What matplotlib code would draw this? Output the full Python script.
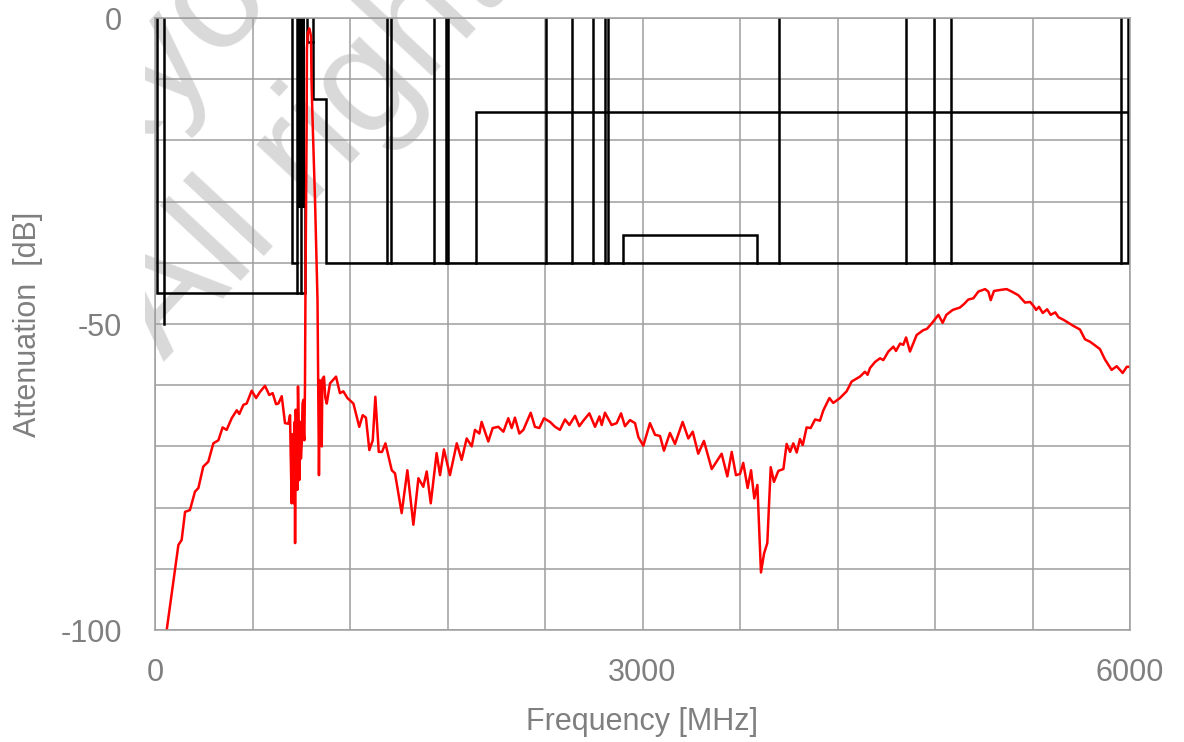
import matplotlib.pyplot as plt
import numpy as np
from matplotlib.ticker import MultipleLocator

plt.rcParams['font.family'] = ['Liberation Sans', 'DejaVu Sans']
plt.rcParams['axes.unicode_minus'] = False

# measured attenuation curve (MHz, dB)
freq = [72, 144, 164, 185, 215, 246, 267, 297, 328, 359, 390, 416, 441, 472, 503, 519,
        544, 564, 595, 622, 646, 677, 703, 724, 745, 759, 780, 800, 821, 831, 835, 841,
        845, 850, 855, 859, 862, 866, 868, 872, 876, 880, 884, 888, 893, 898, 903, 908,
        913, 916, 919, 923, 926, 930, 933, 935, 940, 949, 955, 960, 963, 970, 985, 1000,
        1006, 1009, 1015, 1026, 1030, 1040, 1048, 1057, 1077, 1114, 1138, 1159, 1184, 1221,
        1257, 1278, 1298, 1319, 1340, 1356, 1377, 1397, 1418, 1457, 1477, 1518, 1553, 1590,
        1621, 1651, 1672, 1697, 1733, 1754, 1778, 1815, 1857, 1887, 1918, 1949, 1969, 1996,
        2010, 2051, 2078, 2113, 2144, 2174, 2195, 2215, 2242, 2267, 2312, 2338, 2365, 2394,
        2431, 2462, 2492, 2523, 2550, 2585, 2611, 2636, 2673, 2708, 2735, 2749, 2769, 2810,
        2841, 2868, 2892, 2923, 2954, 2975, 3005, 3046, 3077, 3108, 3132, 3169, 3200, 3247,
        3282, 3309, 3343, 3378, 3426, 3487, 3522, 3549, 3575, 3600, 3620, 3647, 3668, 3688,
        3707, 3729, 3748, 3768, 3789, 3809, 3836, 3867, 3887, 3908, 3928, 3949, 3969, 3986,
        4010, 4035, 4062, 4092, 4113, 4150, 4174, 4215, 4256, 4287, 4338, 4369, 4385, 4400,
        4431, 4462, 4482, 4513, 4544, 4560, 4585, 4605, 4622, 4646, 4687, 4728, 4750, 4780,
        4821, 4847, 4870, 4909, 4954, 4980, 5005, 5036, 5067, 5108, 5128, 5143, 5163, 5210,
        5241, 5272, 5313, 5354, 5385, 5408, 5422, 5440, 5463, 5490, 5512, 5540, 5560, 5590,
        5621, 5651, 5692, 5723, 5754, 5775, 5815, 5846, 5887, 5918, 5955, 5980, 6000]
atten = [-100, -86.1, -85.3, -80.7, -80.4, -77.4, -76.8, -73.3, -72.5, -69.5, -69.0, -66.9,
         -67.3, -65.4, -64.1, -64.7, -63.2, -63.0, -60.9, -62.1, -61.1, -60.1, -61.6, -61.3,
         -63.1, -63.0, -61.8, -66.2, -66.3, -64.9, -71.1, -79.3, -68, -75, -79.3, -66, -85.8,
         -64, -66.2, -70, -77.1, -60.2, -66, -75.5, -66, -72, -69.5, -63, -62.4, -68, -69,
         -60, -44, -30, -18, -5, -2.5, -1.7, -2.3, -3, -10, -17, -30, -46, -65, -74.7, -59.2,
         -70, -59, -58.6, -62, -63, -59.7, -58.6, -61.3, -61, -62.1, -63, -66.8, -64.9, -65.3,
         -70.6, -69, -61.9, -70.9, -70.9, -69.5, -73.9, -74.4, -80.9, -73.9, -82.8, -75.2,
         -76.6, -74.1, -79.3, -71.1, -74.7, -70.5, -74.7, -69.5, -72.2, -68.7, -70.0, -67.3,
         -67.9, -66.0, -69.2, -67.0, -66.8, -67.6, -65.4, -67, -65.3, -67.9, -67.3, -64.5,
         -66.8, -67, -65.4, -66, -66.8, -67.3, -65.6, -66.5, -65.0, -66.7, -65.8, -64.6,
         -66.8, -65.1, -66.5, -64.5, -66.5, -66.2, -64.6, -66.7, -65.7, -66.2, -68.5, -69.9,
         -66.2, -68.1, -68.3, -70.7, -67.8, -69.6, -66.0, -68.7, -67.6, -71.2, -69.1, -73.7,
         -71.2, -74.9, -70.9, -74.7, -74.5, -72.7, -76.8, -73.9, -78.5, -76.3, -90.6, -87.5,
         -85.8, -73.4, -75.8, -74.0, -73.7, -69.6, -70.9, -69.5, -71.0, -68.8, -69.8, -66.9,
         -67, -65.6, -65.8, -64.1, -62.1, -62.9, -62.1, -61.0, -59.4, -58.6, -57.8, -58.3,
         -57.2, -56.2, -55.6, -55.9, -54.5, -53.7, -54.4, -53.2, -53.4, -52.2, -54.5, -51.8,
         -51.0, -50.8, -49.9, -48.5, -49.8, -48.5, -47.7, -47.3, -46.7, -46.0, -45.8, -44.7,
         -44.3, -44.7, -46.1, -44.6, -44.4, -44.3, -44.7, -45.3, -46.5, -46.4, -47.1, -47.7,
         -47.2, -48.2, -47.6, -48.5, -48.1, -48.9, -49.3, -49.8, -50.3, -50.9, -52.5, -52.9,
         -53.3, -54.1, -55.8, -57.5, -56.9, -58.0, -57.0, -57.0]

# spec mask outlines (MHz, dB)
mask_paths = [
    [(14, 0), (14, -45), (923, -45), (923, -31)],
    [(55, 0), (55, -50)],
    [(845, 0), (845, -40), (875, -40)],
    [(875, 0), (875, -45)],
    [(897, -31), (897, -45)],
    [(933, 0), (933, -4), (975, -4)],
    [(975, 0), (975, -13.3), (1052, -13.3), (1052, -40), (5990, -40), (5990, 0)],
    [(1975, -40), (1975, -15.4), (5990, -15.4)],
    [(2878, -40), (2878, -35.4), (3702, -35.4), (3702, -40)],
]
mask_edges = [1430, 1451, 1719, 1789, 1805, 2404, 2568, 2694, 2770, 2790,
              3842, 4620, 4794, 4899, 5945]
mask_edge_level = -40
mask_block = [(872, 0), (923, 0), (923, -31), (872, -31)]

grey = '#7f7f7f'
grid_col = '#9e9e9e'

fig = plt.figure(figsize=(11.84, 7.42), dpi=100)

# faint watermark, clipped to the plot region
wm = fig.add_axes([145 / 1184, 0, 1 - 145 / 1184, 1])
wm.set_axis_off()
wm.set_zorder(0)
for txt, (px, py) in [('Kyocera', (93, 185)), ('All rights reserved', (165, 362))]:
    wm.text(px / 1184, 1 - py / 742, txt, transform=fig.transFigure, fontsize=110,
            color='#d9d9d9', rotation=47, rotation_mode='anchor',
            ha='left', va='baseline', clip_on=True)

ax = fig.add_axes([155 / 1184, 1 - 630 / 742, 975 / 1184, 612 / 742])
ax.set_zorder(1)
ax.patch.set_alpha(0)

for path in mask_paths:
    xs, ys = zip(*path)
    ax.plot(xs, ys, color='black', lw=1.8, solid_joinstyle='miter')
for f in mask_edges:
    ax.plot([f, f], [0, mask_edge_level], color='black', lw=1.8)
bx, by = zip(*mask_block)
ax.fill(bx, by, color='black', lw=0)

ax.plot(freq, atten, color='red', lw=1.8)

ax.set_xlim(0, 6000)
ax.set_ylim(-100, 0)
ax.xaxis.set_major_locator(MultipleLocator(3000))
ax.xaxis.set_minor_locator(MultipleLocator(600))
ax.yaxis.set_major_locator(MultipleLocator(50))
ax.yaxis.set_minor_locator(MultipleLocator(10))
ax.grid(True, which='both', color=grid_col, lw=1.1)
ax.set_axisbelow(True)
for s in ax.spines.values():
    s.set_color(grid_col)
    s.set_linewidth(1.1)
ax.tick_params(which='both', length=0, labelsize=22, labelcolor=grey)
ax.tick_params(axis='x', pad=20)
ax.tick_params(axis='y', pad=24)

ax.set_xlabel('Frequency [MHz]', fontsize=22, color=grey, labelpad=14)
ax.set_ylabel('Attenuation  [dB]', fontsize=22, color=grey, labelpad=12)

fig.savefig('out.png', dpi=100)
